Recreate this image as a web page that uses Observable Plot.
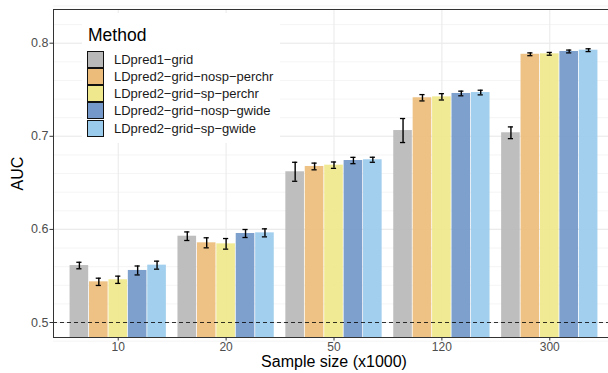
<!DOCTYPE html>
<html>
<head>
<meta charset="utf-8">
<script src="https://cdn.jsdelivr.net/npm/d3@7"></script>
<script src="https://cdn.jsdelivr.net/npm/@observablehq/plot@0.6"></script>
<style>
  body { margin: 0; background: white; overflow: hidden; }
  #wrap { position: relative; width: 608px; height: 373px; font-family: "Liberation Sans", Arial, sans-serif; }
  #legend { position: absolute; left: 82px; top: 13px; width: 198px; height: 130px; background: white; }
  #legend .title { position: absolute; left: 6px; top: 12px; font-size: 17.5px; color: #000; line-height: 20px; }
  #legend .row { position: absolute; left: 5px; height: 17.2px; display: flex; align-items: center; }
  #legend .key { width: 15px; height: 15px; border: 1.2px solid #111; box-sizing: content-box; }
  #legend .lab { margin-left: 10px; font-size: 13px; color: #1a1a1a; white-space: nowrap; }
</style>
</head>
<body>
<div id="wrap"><div id="chart"></div><div id="legend"></div></div>
<script>
// ---- data ----
const sizes = ["10", "20", "50", "120", "300"];
const methods = ["LDpred1-grid", "LDpred2-grid-nosp-perchr", "LDpred2-grid-sp-perchr", "LDpred2-grid-nosp-gwide", "LDpred2-grid-sp-gwide"];
const colors = ["#b8b8b8", "#ecbd7a", "#f0e88c", "#7398c9", "#9acbec"];
const aucLDpred1 = [0.5612, 0.5927, 0.6619, 0.7062, 0.7038];
const aucNospPerchr = [0.5437, 0.5856, 0.6676, 0.7414, 0.7881];
const aucSpPerchr = [0.5459, 0.5845, 0.6690, 0.7424, 0.7886];
const aucNospGwide = [0.5559, 0.5956, 0.6740, 0.7460, 0.7911];
const aucSpGwide = [0.5616, 0.5963, 0.6748, 0.7470, 0.7925];
const errLDpred1 = [0.0035, 0.0046, 0.0102, 0.0129, 0.0063];
const errNospPerchr = [0.0039, 0.0054, 0.0036, 0.0034, 0.0015];
const errSpPerchr = [0.0039, 0.0057, 0.0034, 0.0034, 0.0015];
const errNospGwide = [0.0048, 0.0043, 0.0034, 0.0025, 0.0015];
const errSpGwide = [0.0043, 0.0043, 0.0027, 0.0025, 0.0015];
const yTicks = [0.5, 0.6, 0.7, 0.8];
const yMinor = d3.range(0.48, 0.841, 0.02);
const baseline = 0.5;

const aucs = [aucLDpred1, aucNospPerchr, aucSpPerchr, aucNospGwide, aucSpGwide];
const errs = [errLDpred1, errNospPerchr, errSpPerchr, errNospGwide, errSpGwide];

// dodge geometry (ggplot position_dodge, width 0.9)
const dodge = 0.9, bw = dodge / methods.length, cap = 0.024;
const rows = [];
sizes.forEach((s, i) => methods.forEach((m, j) => {
  const x1 = i - dodge / 2 + j * bw;
  rows.push({size: s, method: m, x1, x2: x1 + bw, xc: x1 + bw / 2, auc: aucs[j][i], err: errs[j][i]});
}));

const ylo = 0.4839, yhi = 0.8362;

const chart = Plot.plot({
  width: 608, height: 373,
  marginLeft: 53, marginRight: 0, marginTop: 9, marginBottom: 36,
  x: {domain: [-0.6, sizes.length - 0.4], range: [53, 614]},
  y: {domain: [ylo, yhi]},
  color: {domain: methods, range: colors},
  style: {fontFamily: "Liberation Sans, Arial, sans-serif", background: "white"},
  marks: [
    Plot.ruleY(yMinor, {stroke: "#ebebeb", strokeWidth: 0.55}),
    Plot.ruleY(yTicks, {stroke: "#ebebeb", strokeWidth: 1.1}),
    Plot.ruleX(d3.range(sizes.length), {stroke: "#ebebeb", strokeWidth: 1.1}),
    Plot.rectY(rows, {x1: "x1", x2: "x2", y1: 0, y2: "auc", fill: "method", fillOpacity: 0.92, insetLeft: 0.4, insetRight: 0.4, clip: true}),
    Plot.ruleX(rows, {x: "xc", y1: d => d.auc - d.err, y2: d => d.auc + d.err, stroke: "#000", strokeWidth: 1.4}),
    Plot.ruleY(rows, {y: d => d.auc - d.err, x1: d => d.xc - cap, x2: d => d.xc + cap, stroke: "#000", strokeWidth: 1.3}),
    Plot.ruleY(rows, {y: d => d.auc + d.err, x1: d => d.xc - cap, x2: d => d.xc + cap, stroke: "#000", strokeWidth: 1.3}),
    Plot.ruleY([baseline], {stroke: "#000", strokeWidth: 0.8, strokeDasharray: "4,3"}),
    Plot.ruleY([ylo, yhi], {stroke: "#333", strokeWidth: 1}),
    Plot.ruleX([-0.6], {stroke: "#333", strokeWidth: 1}),
    Plot.axisX(d3.range(sizes.length), {tickFormat: i => sizes[i], tickSize: 3.5, tickPadding: 1.5, fontSize: 12, stroke: "#333", fill: "#4d4d4d", label: null}),
    Plot.axisY(yTicks, {tickFormat: d => d.toFixed(1), tickSize: 3.5, tickPadding: 1.5, fontSize: 12.5, stroke: "#333", fill: "#4d4d4d", label: null}),
    Plot.text(["Sample size (x1000)"], {text: d => d, frameAnchor: "bottom", textAnchor: "middle", lineAnchor: "middle", dx: 3, dy: 24.5, fontSize: 16, fill: "#000"}),
    Plot.text(["AUC"], {text: d => d, frameAnchor: "left", textAnchor: "middle", lineAnchor: "middle", rotate: -90, dx: -36, fontSize: 16, fill: "#000"})
  ]
});
document.getElementById("chart").appendChild(chart);

// legend
const lg = document.getElementById("legend");
const t = document.createElement("div");
t.className = "title"; t.textContent = "Method"; lg.appendChild(t);
methods.forEach((m, j) => {
  const r = document.createElement("div");
  r.className = "row";
  r.style.top = (37.7 + j * 17.2) + "px";
  const k = document.createElement("div");
  k.className = "key"; k.style.background = colors[j];
  const l = document.createElement("div");
  l.className = "lab"; l.textContent = m.replace(/-/g, "\u2212");
  r.appendChild(k); r.appendChild(l); lg.appendChild(r);
});
</script>
</body>
</html>
